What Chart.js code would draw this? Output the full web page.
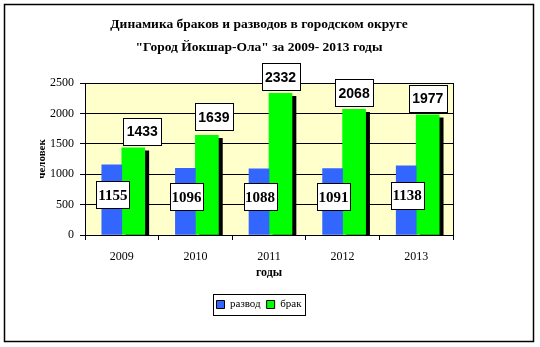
<!DOCTYPE html>
<html lang="ru">
<head>
<meta charset="utf-8">
<title>Динамика браков и разводов</title>
<script src="https://cdn.jsdelivr.net/npm/chart.js@4.4.1/dist/chart.umd.min.js"></script>
<style>
  html, body { margin: 0; padding: 0; background: #fff; }
  canvas { display: block; }
</style>
</head>
<body>
<canvas id="chart" width="540" height="347"></canvas>
<script>
// chart data
const years = ['2009', '2010', '2011', '2012', '2013'];
const divorces = [1155, 1096, 1088, 1091, 1138];
const marriages = [1433, 1639, 2332, 2068, 1977];
const seriesNames = ['развод', 'брак'];
const titleLines = ['Динамика браков и разводов в городском округе', '"Город Йокшар-Ола" за 2009- 2013 годы'];
const yMax = 2500;
const yStep = 500;

const SERIF = '"Liberation Serif", "Times New Roman", serif';
const SANS = '"Liberation Sans", Arial, sans-serif';

Chart.defaults.color = '#000';

// white page, yellow plot area and the outer frame
const backdrop = {
    id: 'backdrop',
    beforeDraw(chart) {
        const { ctx, chartArea: a } = chart;
        ctx.save();
        ctx.fillStyle = '#fff';
        ctx.fillRect(0, 0, chart.width, chart.height);
        ctx.fillStyle = '#FFFFCC';
        ctx.fillRect(a.left, a.top, a.right - a.left, a.bottom - a.top);
        ctx.restore();
    },
    afterDraw(chart) {
        const ctx = chart.ctx;
        ctx.save();
        ctx.strokeStyle = '#000';
        ctx.lineWidth = 1.5;
        ctx.strokeRect(4.5, 4.5, 529, 337);
        ctx.restore();
    }
};

// black drop shadow under the green bars
const barShadow = {
    id: 'barShadow',
    beforeDatasetDraw(chart, args) {
        if (args.index !== 1) return;
        const ctx = chart.ctx;
        ctx.save();
        ctx.shadowColor = '#000';
        ctx.shadowOffsetX = 4;
        ctx.shadowOffsetY = 3;
        ctx.shadowBlur = 0;
    },
    afterDatasetDraw(chart, args) {
        if (args.index !== 1) return;
        chart.ctx.restore();
    }
};

// white value boxes (first two green labels were nudged by hand in the original)
const valueBoxes = {
    id: 'valueBoxes',
    afterDatasetsDraw(chart) {
        const ctx = chart.ctx;
        const y = chart.scales.y;
        const nudgeX = [9, 7, 0, 0, 0];
        const nudgeY = [0, -2, 0, 0, 0];
        chart.data.datasets.forEach((ds, di) => {
            const meta = chart.getDatasetMeta(di);
            meta.data.forEach((bar, i) => {
                const text = String(ds.data[i]);
                let w, h = 27, cx, cy;
                if (di === 0) {
                    ctx.font = 'bold 15px ' + SERIF;
                    w = 33;
                    cx = bar.x + 1;
                    cy = (bar.y + y.bottom) / 2 - 5;
                } else {
                    ctx.font = 'bold 14px ' + SANS;
                    w = 38;
                    cx = bar.x + nudgeX[i];
                    cy = bar.y - 3 - h / 2 + nudgeY[i];
                }
                const bx = Math.round(cx - w / 2) + 0.5;
                const by = Math.round(cy - h / 2) + 0.5;
                ctx.save();
                ctx.fillStyle = '#fff';
                ctx.strokeStyle = '#000';
                ctx.lineWidth = 1;
                ctx.fillRect(bx, by, w, h);
                ctx.strokeRect(bx, by, w, h);
                ctx.fillStyle = '#000';
                ctx.textAlign = 'center';
                ctx.textBaseline = 'middle';
                ctx.fillText(text, cx, cy + 1);
                ctx.restore();
            });
        });
    }
};

// frame round the legend
const legendFrame = {
    id: 'legendFrame',
    afterDraw(chart) {
        const boxes = chart.legend && chart.legend.legendHitBoxes;
        if (!boxes || !boxes.length) return;
        const left = Math.min(...boxes.map(b => b.left)) - 4;
        const right = Math.max(...boxes.map(b => b.left + b.width)) + 3;
        const top = Math.min(...boxes.map(b => b.top)) - 5;
        const bottom = Math.max(...boxes.map(b => b.top + b.height)) + 5;
        const ctx = chart.ctx;
        ctx.save();
        ctx.strokeStyle = '#000';
        ctx.lineWidth = 1;
        ctx.strokeRect(Math.round(left) + 0.5, Math.round(top) + 0.5, Math.round(right - left), Math.round(bottom - top));
        ctx.restore();
    }
};

new Chart(document.getElementById('chart'), {
    type: 'bar',
    data: {
        labels: years,
        datasets: [
            { label: seriesNames[0], data: divorces, backgroundColor: '#3366FF', barThickness: 20, borderWidth: 0 },
            { label: seriesNames[1], data: marriages, backgroundColor: '#00FF00', barThickness: 23, borderWidth: 0 }
        ]
    },
    options: {
        responsive: false,
        animation: false,
        events: [],
        layout: { padding: { left: 4, right: 26, top: 4, bottom: 27 } },
        scales: {
            x: {
                grid: { drawOnChartArea: false, color: '#000', tickLength: 5 },
                border: { color: '#000' },
                ticks: { font: { family: SERIF, size: 12 }, padding: 10 },
                title: { display: true, text: 'годы', font: { family: SERIF, size: 12, weight: 'bold' }, padding: { top: 0, bottom: 13 } },
                afterFit(scale) { scale.height = 58; }
            },
            y: {
                min: 0,
                max: yMax,
                ticks: { stepSize: yStep, font: { family: SERIF, size: 12 }, padding: 6, callback: v => String(v) },
                grid: { color: '#000', tickLength: 5 },
                border: { color: '#000' },
                title: { display: true, text: 'человек', font: { family: SERIF, size: 11, weight: 'bold' }, padding: { top: 32, bottom: 0 } },
                afterFit(scale) { scale.width = 81; }
            },
            y2: {
                position: 'right',
                min: 0,
                max: yMax,
                grid: { display: false },
                border: { color: '#000' },
                ticks: { display: false },
                afterFit(scale) { scale.width = 61; }
            }
        },
        plugins: {
            title: {
                display: true,
                text: titleLines,
                font: { family: SERIF, size: 13.5, weight: 'bold', lineHeight: '23px' },
                padding: { top: 9, bottom: 24 }
            },
            legend: {
                position: 'bottom',
                labels: {
                    font: { family: SERIF, size: 11 },
                    boxWidth: 8,
                    boxHeight: 8,
                    padding: 6,
                    generateLabels(chart) {
                        return Chart.defaults.plugins.legend.labels.generateLabels(chart)
                            .map(item => Object.assign(item, { strokeStyle: '#000', lineWidth: 1 }));
                    }
                }
            },
            tooltip: { enabled: false }
        }
    },
    plugins: [backdrop, barShadow, valueBoxes, legendFrame]
});
</script>
</body>
</html>
